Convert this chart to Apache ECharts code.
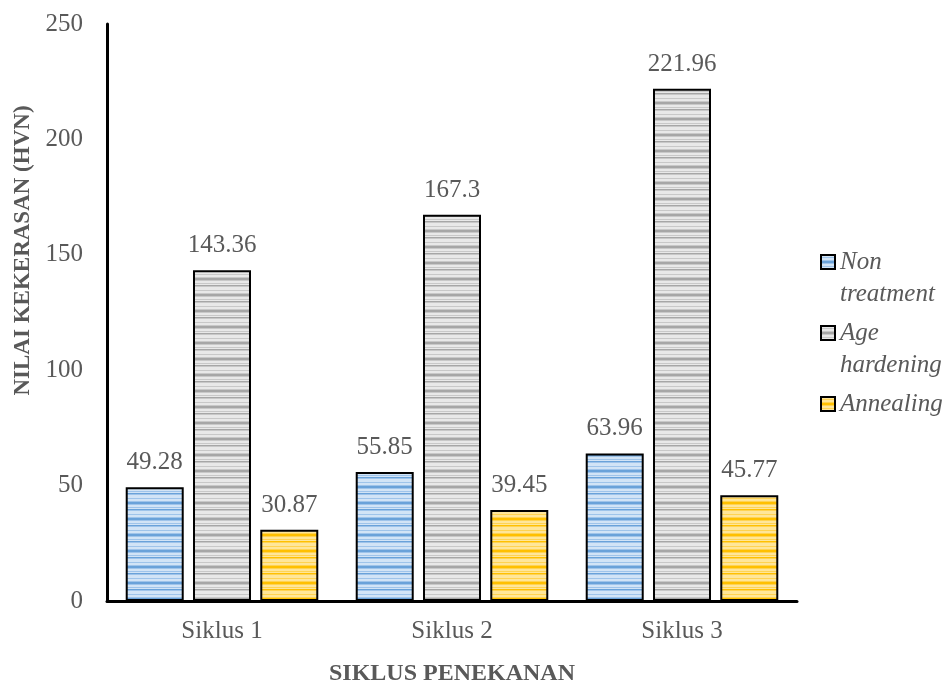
<!DOCTYPE html>
<html>
<head>
<meta charset="utf-8">
<script src="https://cdn.jsdelivr.net/npm/echarts@6/dist/echarts.min.js"></script>
<style>
  html, body { margin: 0; padding: 0; background: #fff; }
  #chart { width: 952px; height: 681px; }
</style>
</head>
<body>
<div id="chart"></div>
<script>
const categories = ['Siklus 1', 'Siklus 2', 'Siklus 3'];
const nonTreatment = [49.28, 55.85, 63.96];
const ageHardening = [143.36, 167.3, 221.96];
const annealing = [30.87, 39.45, 45.77];
const seriesNames = ['Non treatment', 'Age hardening', 'Annealing'];

// Horizontal-stripe fill built on a small canvas and tiled by ECharts
function stripes(light, mid, dark) {
  const c = document.createElement('canvas');
  c.width = 4; c.height = 16;
  const g = c.getContext('2d');
  const rows = [light, light, mid, light, light, mid, dark, dark,
                mid, light, light, mid, light, dark, mid, light];
  rows.forEach((col, i) => { g.fillStyle = col; g.fillRect(0, i, 4, 1); });
  return { image: c, repeat: 'repeat' };
}

const fills = [
  stripes('#d2e4f6', '#9fc4ea', '#6aa2d9'),
  stripes('#e8e8e8', '#c8c8c8', '#a6a6a6'),
  stripes('#ffe699', '#ffd352', '#ffc000')
];

const serif = '"Liberation Serif", "Times New Roman", serif';
const textGray = '#595959';

function barSeries(name, data, fill) {
  return {
    name: name,
    type: 'bar',
    data: data,
    barWidth: 58,
    barGap: '16%',
    itemStyle: { color: fill, borderColor: '#000', borderWidth: 2 },
    label: {
      show: true,
      position: 'top',
      distance: 12,
      color: textGray,
      fontFamily: serif,
      fontSize: 25
    }
  };
}

// Legend key: square at the top of a tall box so it lines up with the first text line
const legendIcon = 'path://M0,0H14V14H0Z M14,46';

const chart = echarts.init(document.getElementById('chart'), null, { renderer: 'canvas' });
chart.setOption({
  backgroundColor: '#fff',
  animation: false,
  grid: { left: 107, right: 155, top: 24, bottom: 80, containLabel: false, outerBoundsMode: 'none' },
  legend: {
    orient: 'vertical',
    left: 815,
    top: 241,
    itemWidth: 14,
    itemHeight: 46,
    itemGap: 7,
    icon: legendIcon,
    data: seriesNames,
    formatter: n => (n.indexOf(' ') >= 0 ? n.replace(' ', '\n') : n + '\n'),
    itemStyle: { borderColor: '#000', borderWidth: 2 },
    textStyle: {
      fontFamily: serif,
      fontStyle: 'italic',
      fontSize: 25,
      color: textGray,
      lineHeight: 32
    }
  },
  xAxis: {
    type: 'category',
    data: categories,
    name: 'SIKLUS PENEKANAN',
    nameLocation: 'middle',
    nameGap: 61,
    nameTextStyle: { fontFamily: serif, fontWeight: 'bold', fontSize: 24, color: textGray },
    axisLine: { lineStyle: { color: '#000', width: 3 } },
    axisTick: { show: false },
    axisLabel: { fontFamily: serif, fontSize: 25, color: textGray, margin: 18 }
  },
  yAxis: {
    type: 'value',
    min: 0,
    max: 250,
    interval: 50,
    name: 'NILAI KEKERASAN (HVN)',
    nameLocation: 'middle',
    nameGap: 68,
    nameTextStyle: {
      fontFamily: serif, fontWeight: 'bold', fontSize: 23, color: textGray,
      padding: [0, 0, 0, 124]
    },
    axisLine: { show: true, lineStyle: { color: '#000', width: 3 } },
    axisTick: { show: false },
    splitLine: { show: false },
    axisLabel: { fontFamily: serif, fontSize: 25, color: textGray, margin: 24 }
  },
  series: [
    barSeries(seriesNames[0], nonTreatment, fills[0]),
    barSeries(seriesNames[1], ageHardening, fills[1]),
    barSeries(seriesNames[2], annealing, fills[2])
  ]
});
</script>
</body>
</html>
